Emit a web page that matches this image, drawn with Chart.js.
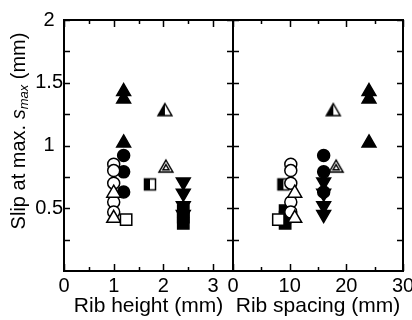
<!DOCTYPE html>
<html lang="en">
  <head>
    <meta charset="UTF-8">
    <title>Slip at max. vs rib geometry</title>
    <script src="https://cdn.jsdelivr.net/npm/chart.js"></script>
    <style>
      body { margin: 0; width: 412px; height: 320px; overflow: hidden; position: relative; background: #fff; }
      canvas { position: absolute; top: 0; }
      #heightChart { left: 0; }
      #spacingChart { left: 213px; }
    </style>
  </head>
  <body>
    <canvas id="heightChart" width="253" height="320"></canvas>
    <canvas id="spacingChart" width="220" height="320"></canvas>
    <script>
      // one entry per specimen group (marker type)
      const seriesNames = ['open square', 'open triangle', 'open circle', 'cross', 'half square',
        'half triangle', 'inner triangle', 'filled circle', 'filled triangle', 'filled down triangle', 'filled square'];
      const ribHeight = [1.25, 1.0, 1.0, 1.0, 1.73, 2.03, 2.05, 1.2, 1.2, 2.4, 2.4];
      const ribSpacing = [8, 10.9, 10.2, 10.5, 8.9, 17.7, 18.2, 16, 24, 16, 9.2];
      const slipValues = [
        [0.41],
        [0.62, 0.42],
        [0.85, 0.80, 0.70, 0.55, 0.47],
        [0.46],
        [0.69],
        [1.27],
        [0.82],
        [0.92, 0.79, 0.63],
        [1.43, 1.37, 1.02],
        [0.71, 0.62, 0.52, 0.45],
        [0.48, 0.43, 0.38]
      ];
      const heightTicks = [0, 1, 2, 3];
      const heightMinorTicks = [0.5, 1.5, 2.5];
      const spacingTicks = [0, 10, 20, 30];
      const spacingMinorTicks = [5, 15, 25];
      const slipTicks = [0.5, 1, 1.5, 2];
      const slipMinorTicks = [0.25, 0.75, 1.25, 1.75];

      const FONT = '"Liberation Sans", Arial, sans-serif';

      function makeMarker(draw) {
        const c = document.createElement('canvas');
        c.width = 20; c.height = 20;
        const g = c.getContext('2d');
        g.translate(10, 10);
        g.lineWidth = 1.5; g.strokeStyle = '#000'; g.fillStyle = '#fff';
        draw(g);
        return c;
      }
      function triPath(g, r) {
        g.beginPath();
        g.moveTo(0, -r);
        g.lineTo(0.866 * r, 0.5 * r);
        g.lineTo(-0.866 * r, 0.5 * r);
        g.closePath();
      }
      const halfTriangle = makeMarker(g => {
        triPath(g, 8); g.fill();
        g.save(); g.clip(); g.fillStyle = '#000'; g.fillRect(-9, -9, 9, 18); g.restore();
        triPath(g, 8); g.stroke();
      });
      const innerTriangle = makeMarker(g => {
        triPath(g, 8); g.fill(); g.stroke();
        triPath(g, 3.5); g.stroke();
      });
      const halfSquare = makeMarker(g => {
        g.fillRect(-5.5, -5.5, 11, 11);
        g.fillStyle = '#000'; g.fillRect(-5.5, -5.5, 5.5, 11);
        g.strokeRect(-5.5, -5.5, 11, 11);
      });

      const markerStyles = [
        { pointStyle: 'rect', radius: 8, fill: '#fff' },
        { pointStyle: 'triangle', radius: 8, fill: '#fff' },
        { pointStyle: 'circle', radius: 6, fill: '#fff' },
        { pointStyle: 'crossRot', radius: 6, fill: '#fff' },
        { pointStyle: halfSquare, radius: 8, fill: '#fff' },
        { pointStyle: halfTriangle, radius: 8, fill: '#fff' },
        { pointStyle: innerTriangle, radius: 8, fill: '#fff' },
        { pointStyle: 'circle', radius: 6, fill: '#000' },
        { pointStyle: 'triangle', radius: 8, fill: '#000' },
        { pointStyle: 'triangle', radius: 8, fill: '#000', rotation: 180 },
        { pointStyle: 'rect', radius: 8, fill: '#000' }
      ];

      function buildDatasets(xValues) {
        return seriesNames.map((name, i) => ({
          label: name,
          data: slipValues[i].map(v => ({ x: xValues[i], y: v })),
          pointStyle: markerStyles[i].pointStyle,
          pointRadius: markerStyles[i].radius,
          pointRotation: markerStyles[i].rotation || 0,
          backgroundColor: markerStyles[i].fill,
          borderColor: '#000',
          borderWidth: 1.5,
          order: i
        }));
      }

      // inward ticks on all four sides plus the box
      const framePlugin = {
        id: 'frame',
        afterDatasetsDraw(chart, args, opts) {
          const { ctx, chartArea: a, scales: { x, y } } = chart;
          ctx.save();
          ctx.strokeStyle = '#000';
          ctx.lineWidth = 1.5;
          ctx.beginPath();
          const xTick = (v, len) => {
            const px = Math.round(x.getPixelForValue(v)) + 0.5;
            ctx.moveTo(px, a.bottom); ctx.lineTo(px, a.bottom - len);
            ctx.moveTo(px, a.top); ctx.lineTo(px, a.top + len);
          };
          const yTick = (v, len) => {
            const py = Math.round(y.getPixelForValue(v)) + 0.5;
            ctx.moveTo(a.left, py); ctx.lineTo(a.left + len, py);
            ctx.moveTo(a.right, py); ctx.lineTo(a.right - len, py);
          };
          opts.xMajor.forEach(v => xTick(v, 7));
          opts.xMinor.forEach(v => xTick(v, 4));
          slipTicks.forEach(v => yTick(v, 6));
          slipMinorTicks.forEach(v => yTick(v, 6));
          ctx.stroke();
          ctx.lineWidth = 2;
          ctx.strokeRect(a.left, a.top, a.width, a.height);
          ctx.restore();
        }
      };

      const yTitlePlugin = {
        id: 'yTitle',
        afterDraw(chart) {
          const ctx = chart.ctx;
          ctx.save();
          ctx.translate(19, 131);
          ctx.rotate(-Math.PI / 2);
          ctx.fillStyle = '#000';
          ctx.textBaseline = 'middle';
          const parts = [
            { t: 'Slip at max. ', f: '20px ' + FONT, dy: 0 },
            { t: 's', f: 'italic 20px ' + FONT, dy: 0 },
            { t: 'max', f: 'italic 13px ' + FONT, dy: 5 },
            { t: ' (mm)', f: '20px ' + FONT, dy: 0 }
          ];
          let total = 0;
          parts.forEach(p => { ctx.font = p.f; p.w = ctx.measureText(p.t).width; total += p.w; });
          let cx = -total / 2;
          parts.forEach(p => { ctx.font = p.f; ctx.fillText(p.t, cx, p.dy); cx += p.w; });
          ctx.restore();
        }
      };

      function makeOptions(xTicks, xMinor, xMax, title, padding, showY) {
        return {
          responsive: false,
          animation: false,
          layout: { padding },
          plugins: {
            legend: { display: false },
            tooltip: { enabled: false },
            frame: { xMajor: xTicks, xMinor }
          },
          scales: {
            x: {
              type: 'linear',
              min: 0,
              max: xMax,
              grid: { display: false, drawTicks: false },
              border: { display: false },
              afterBuildTicks: scale => { scale.ticks = xTicks.map(v => ({ value: v })); },
              afterFit: scale => { scale.height = 49; },
              ticks: { color: '#000', padding: 3, font: { family: FONT, size: 20 } },
              title: {
                display: true,
                text: title,
                color: '#000',
                padding: { top: 0, bottom: 1 },
                font: { family: FONT, size: 21 }
              }
            },
            y: {
              display: showY,
              min: 0,
              max: 2,
              grid: { display: false, drawTicks: false },
              border: { display: false },
              afterBuildTicks: scale => { scale.ticks = slipTicks.map(v => ({ value: v })); },
              afterFit: scale => { scale.width = showY ? 64 : 0; },
              ticks: {
                color: '#000',
                padding: 1,
                crossAlign: 'center',
                font: { family: FONT, size: 20 },
                callback: v => String(v)
              }
            }
          }
        };
      }

      new Chart(document.getElementById('heightChart'), {
        type: 'scatter',
        data: { datasets: buildDatasets(ribHeight) },
        options: makeOptions(heightTicks, heightMinorTicks, 3.4, 'Rib height (mm)', { left: 0, right: 20, top: 20, bottom: 0 }, true),
        plugins: [framePlugin, yTitlePlugin]
      });

      new Chart(document.getElementById('spacingChart'), {
        type: 'scatter',
        data: { datasets: buildDatasets(ribSpacing) },
        options: makeOptions(spacingTicks, spacingMinorTicks, 30, 'Rib spacing (mm)', { left: 20, right: 30, top: 20, bottom: 0 }, false),
        plugins: [framePlugin]
      });
    </script>
  </body>
</html>
